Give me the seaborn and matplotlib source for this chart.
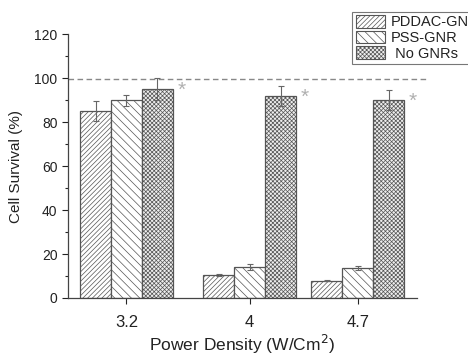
"""
Cell survival vs. laser power density for GNR-treated and untreated cells.
Grouped hatched bars on a numeric x axis, with error bars and asterisks.
"""

import numpy as np
import pandas as pd
import matplotlib
matplotlib.use('Agg')
import matplotlib.pyplot as plt
from matplotlib.ticker import MultipleLocator
from matplotlib.patches import Patch
import seaborn as sns

# --- data ---
power = [3.2, 4, 4.7]
groups = ['PDDAC-GNR', 'PSS-GNR', 'No GNRs']
pddac = [85, 10.5, 7.8]
pss = [90, 14, 13.5]
no_gnr = [95, 92, 90]
pddac_err = [4.5, 0.5, 0.3]
pss_err = [2.5, 1.5, 1.0]
no_gnr_err = [5, 4.5, 4.5]
control_line = 99.5

hatches = ['///////', '\\\\\\\\', 'xxxxxxxx']
legend_labels = ['PDDAC-GNR', 'PSS-GNR', ' No GNRs']

sns.set_style('ticks')
plt.rcParams['font.family'] = ['Liberation Sans', 'DejaVu Sans']
plt.rcParams['hatch.linewidth'] = 0.5

df = pd.DataFrame({
    'power': power * 3,
    'survival': pddac + pss + no_gnr,
    'err': pddac_err + pss_err + no_gnr_err,
    'group': np.repeat(groups, len(power)),
})

fig = plt.figure(figsize=(4.68, 3.56), dpi=100)
ax = fig.add_axes([0.145, 0.163, 0.746, 0.741])

sns.barplot(
    data=df, x='power', y='survival', hue='group', hue_order=groups,
    native_scale=True, width=0.86, errorbar=None,
    palette=['white'] * 3, edgecolor='#555555', linewidth=0.9,
    legend=False, ax=ax,
)

# hatches + error bars, bars come out hue by hue
bars = [p for p in ax.patches]
for i, bar in enumerate(bars):
    g = i // len(power)
    j = i % len(power)
    bar.set_hatch(hatches[g])
    if g == 2:
        bar.set_facecolor('#eeeeee')
    errs = [pddac_err, pss_err, no_gnr_err][g]
    cx = bar.get_x() + bar.get_width() / 2
    ax.errorbar(cx, bar.get_height(), yerr=errs[j], fmt='none',
                ecolor='#666666', elinewidth=0.8, capsize=2.5, capthick=0.8,
                zorder=5)
    if g == 2:
        ax.annotate('*', xy=(bar.get_x() + bar.get_width(), bar.get_height()),
                    xytext=(6.5, -1), textcoords='offset points',
                    ha='center', va='center', fontsize=15, color='#b0b0b0')

ax.axhline(control_line, xmin=0, xmax=1.03, color='#888888', lw=1.0,
           ls=(0, (4, 2.5)), clip_on=False, zorder=1)

ax.set_xlim(2.82, 5.085)
ax.set_ylim(0, 120)
ax.set_xticks(power)
ax.set_xticklabels(['3.2', '4', '4.7'], fontsize=12, color='#222222')
ax.yaxis.set_major_locator(MultipleLocator(20))
ax.yaxis.set_minor_locator(MultipleLocator(10))
ax.tick_params(axis='y', labelsize=10, colors='#222222', length=4, width=0.8)
ax.tick_params(axis='y', which='minor', length=2.5, width=0.8)
ax.tick_params(axis='x', length=4, width=0.8, pad=8)

for s in ['left', 'bottom']:
    ax.spines[s].set_color('#444444')
    ax.spines[s].set_linewidth(0.9)
sns.despine(ax=ax)

ax.set_xlabel('Power Density (W/Cm$^2$)', fontsize=12.5, color='#222222', labelpad=2)
ax.set_ylabel('Cell Survival (%)', fontsize=11, color='#222222', labelpad=8)

# legend with hatched handles
handles = [Patch(facecolor='white' if k < 2 else '#eeeeee', edgecolor='#555555',
                 hatch=hatches[k], linewidth=0.8) for k in range(3)]
leg = ax.legend(handles, legend_labels, loc='upper left',
                bbox_to_anchor=(0.815, 1.085), fontsize=10.5, frameon=True,
                fancybox=False, edgecolor='#777777', framealpha=1,
                handlelength=2.0, handleheight=0.9, handletextpad=0.4,
                borderpad=0.25, labelspacing=0.1, borderaxespad=0)
leg.get_frame().set_linewidth(0.8)
for t in leg.get_texts():
    t.set_color('#222222')

fig.savefig('out.png', dpi=100)
